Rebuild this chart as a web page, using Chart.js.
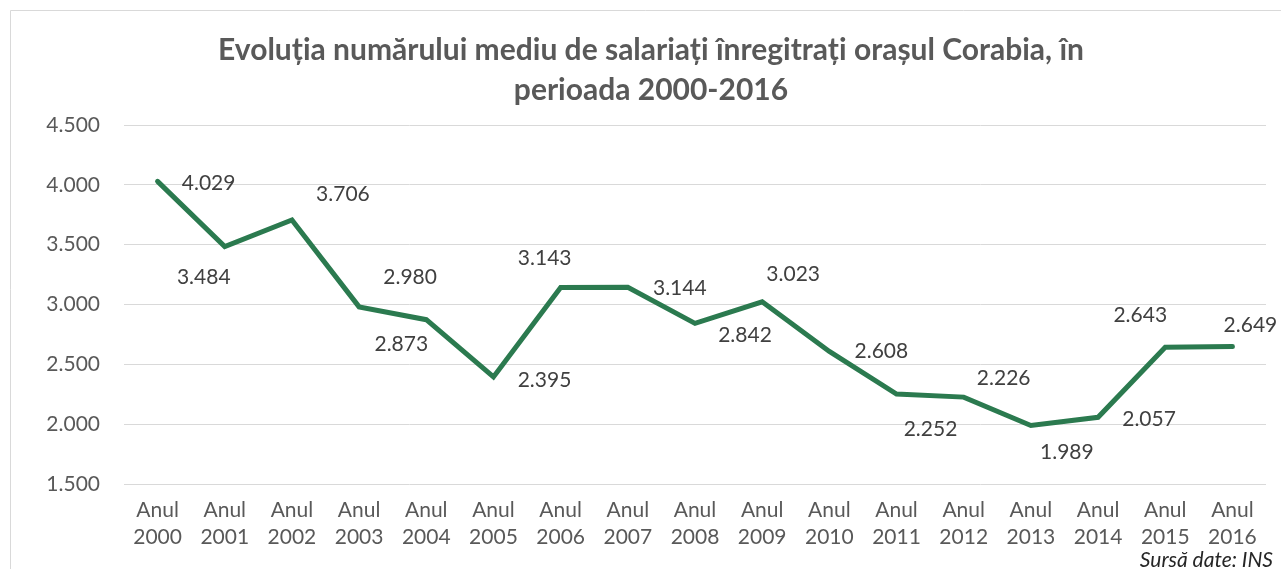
<!DOCTYPE html>
<html>
<head>
<meta charset="utf-8">
<script src="https://cdn.jsdelivr.net/npm/chart.js@4.4.1/dist/chart.umd.min.js"></script>
<style>
  html, body { margin: 0; padding: 0; background: #fff; }
  #grafic { position: relative; width: 1281px; height: 569px; }
</style>
</head>
<body>
<div id="grafic"><canvas id="myChart" width="1281" height="569"></canvas></div>
<script>
var ani = [2000, 2001, 2002, 2003, 2004, 2005, 2006, 2007, 2008, 2009, 2010, 2011, 2012, 2013, 2014, 2015, 2016];
var salariati = [4029, 3484, 3706, 2980, 2873, 2395, 3143, 3144, 2842, 3023, 2608, 2252, 2226, 1989, 2057, 2643, 2649];
var axaY = { min: 1500, max: 4500, pas: 500 };
var titlu = ['Evoluția numărului mediu de salariați înregitrați orașul Corabia, în', 'perioada 2000-2016'];
var sursa = 'Sursă date: INS';

// unde stau etichetele fata de punct (px), ca in graficul original din Excel
var deplasari = [[51, 2], [-21, 31], [51, -26], [51, -30], [-25, 25], [51, 3], [-16, -29], [52, 1], [50, 12],
  [31, -28], [52, 0], [34, 35], [40, -19], [36, 27], [51, 2], [-25, -32], [18, -21]];

var font = 'Lato, "Open Sans", sans-serif';

function formatRo(v) {
  var mii = Math.floor(v / 1000);
  var rest = String(v % 1000);
  while (rest.length < 3) rest = '0' + rest;
  return mii + '.' + rest;
}

var etichete = {
  id: 'etichete',
  beforeDraw: function (chart) {
    var ctx = chart.ctx;
    ctx.save();
    ctx.fillStyle = '#fff';
    ctx.fillRect(0, 0, chart.width, chart.height);
    ctx.strokeStyle = '#d9d9d9';
    ctx.lineWidth = 1;
    ctx.beginPath();
    ctx.moveTo(10.5, chart.height);
    ctx.lineTo(10.5, 10.5);
    ctx.lineTo(chart.width, 10.5);
    ctx.stroke();
    ctx.restore();
  },
  afterDatasetsDraw: function (chart) {
    var ctx = chart.ctx;
    var meta = chart.getDatasetMeta(0);
    ctx.save();
    ctx.font = '21px ' + font;
    ctx.fillStyle = '#404040';
    ctx.textAlign = 'center';
    ctx.textBaseline = 'middle';
    meta.data.forEach(function (p, i) {
      ctx.fillText(formatRo(salariati[i]), p.x + deplasari[i][0], p.y + deplasari[i][1]);
    });
    ctx.font = 'italic 21px ' + font;
    ctx.fillStyle = '#262626';
    ctx.textAlign = 'right';
    ctx.fillText(sursa, 1273, 560);
    ctx.restore();
  }
};

const ctx = document.getElementById('myChart');
new Chart(ctx, {
  type: 'line',
  data: {
    labels: ani.map(function (a) { return ['Anul', String(a)]; }),
    datasets: [{
      label: 'Salariati',
      data: salariati,
      borderColor: '#2b7a4f',
      borderWidth: 5,
      borderJoinStyle: 'miter',
      borderCapStyle: 'round',
      pointRadius: 0,
      tension: 0,
      fill: false
    }]
  },
  options: {
    responsive: false,
    animation: false,
    devicePixelRatio: 1,
    layout: { autoPadding: false, padding: { left: 36, right: 15, top: 0, bottom: 0 } },
    plugins: {
      legend: { display: false },
      tooltip: { enabled: false },
      title: {
        display: true,
        text: titlu,
        color: '#595959',
        font: { family: font, size: 30, weight: 'bold', lineHeight: '40px' },
        padding: { top: 30, bottom: 15 }
      }
    },
    scales: {
      x: {
        offset: true,
        grid: { display: false },
        border: { display: false },
        ticks: {
          color: '#595959',
          font: { family: font, size: 21, lineHeight: '27px' },
          padding: 5,
          autoSkip: false,
          maxRotation: 0
        },
        afterFit: function (s) { s.height = 85; }
      },
      y: {
        min: axaY.min,
        max: axaY.max,
        grid: { color: '#d9d9d9', lineWidth: 1, drawTicks: false },
        border: { display: false },
        ticks: {
          stepSize: axaY.pas,
          color: '#595959',
          font: { family: font, size: 21 },
          padding: 24,
          callback: function (v) { return formatRo(v); }
        },
        afterFit: function (s) { s.width = 88; }
      }
    }
  },
  plugins: [etichete]
});
</script>
</body>
</html>
